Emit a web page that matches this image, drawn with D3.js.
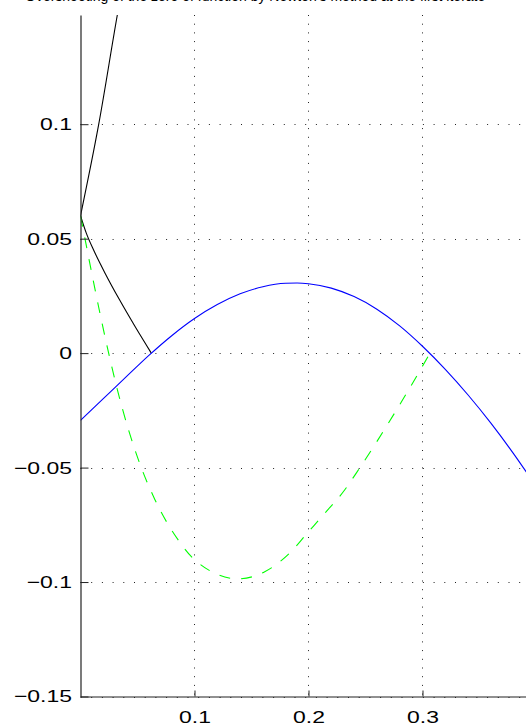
<!DOCTYPE html>
<html>
<head>
<meta charset="utf-8">
<script src="https://cdn.jsdelivr.net/npm/d3@7"></script>
<style>
body { margin: 0; background: #fff; }
svg { display: block; }
</style>
</head>
<body>
<div id="chart"></div>
<script>
var w = 526;
var h = 726;
var margin = ({top: 15, right: 0, bottom: 29.5, left: 80.5});

// ticks
var xTicks = [0.1, 0.2, 0.3];
var yTicks = [-0.15, -0.1, -0.05, 0, 0.05, 0.1];
var yTickLabels = ["\u22120.15", "\u22120.1", "\u22120.05", "0", "0.05", "0.1"];

// blue curve (function)
var blueX = [0, 0.02, 0.04, 0.06, 0.08, 0.10, 0.12, 0.14, 0.16, 0.18, 0.19, 0.20, 0.22, 0.24, 0.26, 0.28, 0.30, 0.32, 0.34, 0.36, 0.38, 0.40];
var blueY = [-0.0294, -0.0199, -0.0104, -0.0010, 0.0076, 0.0151, 0.0212, 0.0259, 0.0290, 0.0305, 0.0306, 0.0303, 0.0284, 0.0247, 0.0192, 0.0119, 0.0030, -0.0071, -0.0183, -0.0306, -0.0440, -0.0585];

// green dashed curve
var greenX = [0, 0.0247, 0.0314, 0.0533, 0.0651, 0.0855, 0.1002, 0.1384, 0.1616, 0.185, 0.1985, 0.2142, 0.2317, 0.2419, 0.2826, 0.3066];
var greenY = [0.06, 0, -0.0141, -0.05, -0.0638, -0.0815, -0.0903, -0.0986, -0.0955, -0.0866, -0.0789, -0.0700, -0.0598, -0.0524, -0.0204, 0];

// black curves
var blackLowX = [0, 0.005, 0.012, 0.022, 0.034, 0.048, 0.0621];
var blackLowY = [0.06, 0.0525, 0.0445, 0.0345, 0.0235, 0.0115, 0];
var blackUpX = [0, 0.016, 0.0323, 0.036];
var blackUpY = [0.06, 0.1, 0.1477, 0.158];

var title = "Overshooting of the zero of function by Newton's method at the first iterate";

var xScale = d3.scaleLinear()
    .domain([0, 0.3908])
    .range([margin.left, w - margin.right]);
var yScale = d3.scaleLinear()
    .domain([-0.15, 0.1477])
    .range([h - margin.bottom, margin.top]);

var svg = d3.select("#chart")
    .append("svg")
    .attr("width", w)
    .attr("height", h);

svg.append("clipPath")
    .attr("id", "plotclip")
    .append("rect")
    .attr("x", margin.left)
    .attr("y", margin.top)
    .attr("width", w - margin.left)
    .attr("height", h - margin.bottom - margin.top);

// title, cut off at the top like in the reference
svg.append("text")
    .attr("x", 25)
    .attr("y", 0.5)
    .attr("font-family", "Liberation Sans, Arial, sans-serif")
    .attr("font-size", 14)
    .text(title);

// grid
svg.selectAll(".vgrid")
    .data(xTicks)
    .enter()
    .append("line")
    .attr("x1", function(d) { return Math.round(xScale(d)) + 0.5; })
    .attr("x2", function(d) { return Math.round(xScale(d)) + 0.5; })
    .attr("y1", margin.top)
    .attr("y2", h - margin.bottom)
    .attr("stroke", "#222")
    .attr("stroke-dasharray", "1,7.7");

svg.selectAll(".hgrid")
    .data(yTicks)
    .enter()
    .append("line")
    .attr("x1", margin.left)
    .attr("x2", w)
    .attr("y1", function(d) { return Math.round(yScale(d)) + 0.5; })
    .attr("y2", function(d) { return Math.round(yScale(d)) + 0.5; })
    .attr("stroke", "#222")
    .attr("stroke-dasharray", "1,9.7");

var plot = svg.append("g").attr("clip-path", "url(#plotclip)");

function makeLine(xs) {
    return d3.line()
        .x(function(d, i) { return xScale(xs[i]); })
        .y(function(d) { return yScale(d); })
        .curve(d3.curveMonotoneX);
}

plot.append("path")
    .attr("d", makeLine(blackUpX)(blackUpY))
    .attr("fill", "none")
    .attr("stroke", "#000")
    .attr("stroke-width", 1.1);

plot.append("path")
    .attr("d", makeLine(blackLowX)(blackLowY))
    .attr("fill", "none")
    .attr("stroke", "#000")
    .attr("stroke-width", 1.1);

plot.append("path")
    .attr("d", makeLine(greenX)(greenY))
    .attr("fill", "none")
    .attr("stroke", "#00ff00")
    .attr("stroke-width", 1.1)
    .attr("stroke-dasharray", "11,11");

plot.append("path")
    .attr("d", makeLine(blueX)(blueY))
    .attr("fill", "none")
    .attr("stroke", "#0000ff")
    .attr("stroke-width", 1.1);

// axes
var yAxis = svg.append("g")
    .attr("transform", "translate(" + margin.left + ",0)")
    .call(d3.axisLeft(yScale)
        .tickValues(yTicks)
        .tickSize(-8)
        .tickSizeOuter(0)
        .tickPadding(8.5)
        .tickFormat(function(d, i) { return yTickLabels[i]; }));

var xAxis = svg.append("g")
    .attr("transform", "translate(0," + (h - margin.bottom) + ")")
    .call(d3.axisBottom(xScale)
        .tickValues(xTicks)
        .tickSize(-6)
        .tickSizeOuter(0)
        .tickPadding(20)
        .tickFormat(d3.format(".1f")));

svg.selectAll(".domain")
    .attr("stroke", "#222")
    .attr("stroke-width", 1.2);
svg.selectAll(".tick line")
    .attr("stroke", "#222");
svg.selectAll(".tick text")
    .attr("font-family", "Liberation Sans, Arial, sans-serif")
    .attr("font-size", 17)
    .attr("fill", "#000")
    .each(function() {
        // the reference text is stretched wide
        var len = this.getComputedTextLength();
        d3.select(this)
            .attr("textLength", len * 1.35)
            .attr("lengthAdjust", "spacingAndGlyphs");
    });
xAxis.selectAll(".tick text").attr("dy", 0).attr("y", 26);
</script>
</body>
</html>
